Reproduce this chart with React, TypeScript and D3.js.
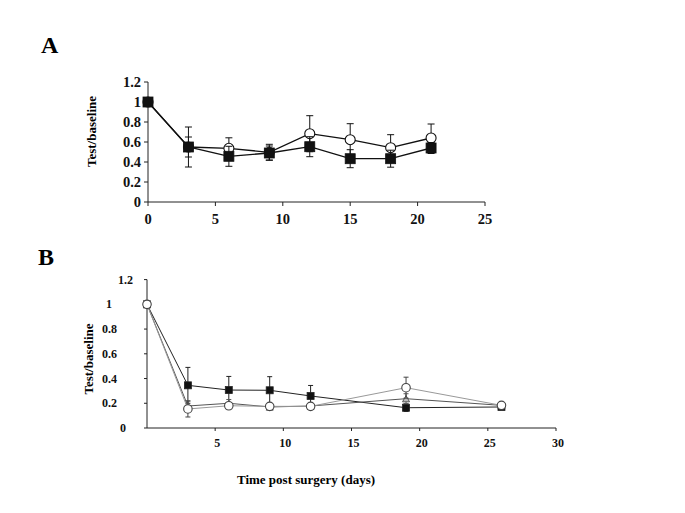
import React from "react";
import * as d3 from "d3";

// Panel A data
const daysA = [0, 3, 6, 9, 12, 15, 18, 21];
const aSquare = [1.0, 0.55, 0.457, 0.49, 0.553, 0.433, 0.433, 0.54];
const aSquareErr = [0, 0.2, 0.1, 0.07, 0.1, 0.09, 0.085, 0.055];
const aCircle = [1.0, 0.55, 0.537, 0.497, 0.683, 0.623, 0.543, 0.64];
const aCircleErr = [0, 0.1, 0.105, 0.08, 0.18, 0.16, 0.13, 0.14];
const aXTicks = [0, 5, 10, 15, 20, 25];
const aYTicks = [0, 0.2, 0.4, 0.6, 0.8, 1, 1.2];

// Panel B data
const daysB = [0, 3, 6, 9, 12, 19, 26];
const bSquare = [1.0, 0.345, 0.307, 0.305, 0.259, 0.164, 0.17];
const bSquareErr = [0, 0.145, 0.11, 0.11, 0.085, 0.03, 0.02];
const bTriangle = [1.0, 0.178, 0.2, 0.17, 0.178, 0.237, 0.183];
const bTriangleErr = [0, 0.04, 0.03, 0.02, 0.02, 0.04, 0.02];
const bCircle = [1.0, 0.154, 0.18, 0.175, 0.175, 0.326, 0.183];
const bCircleErr = [0, 0.065, 0.02, 0.02, 0.02, 0.085, 0.02];
const bXTicks = [5, 10, 15, 20, 25, 30];
const bYTicks = [0, 0.2, 0.4, 0.6, 0.8, 1, 1.2];

const FONT = "'Liberation Serif', 'Times New Roman', serif";

type Series = {
  x: number[];
  y: number[];
  err: number[];
  marker: "square" | "circle" | "triangle";
  size: number;
  line: string;
  lw: number;
  fill: string;
  stroke: string;
  cap: number;
};

function Marker({ kind, cx, cy, size, fill, stroke }: any) {
  if (kind === "square")
    return <rect x={cx - size / 2} y={cy - size / 2} width={size} height={size} fill={fill} stroke={stroke} strokeWidth={0.8} />;
  if (kind === "circle")
    return <circle cx={cx} cy={cy} r={size / 2} fill={fill} stroke={stroke} strokeWidth={1.1} />;
  const h = size * 0.9;
  return (
    <path
      d={`M${cx},${cy - h / 2} L${cx + size / 2},${cy + h / 2} L${cx - size / 2},${cy + h / 2} Z`}
      fill={fill}
      stroke={stroke}
      strokeWidth={1}
    />
  );
}

function Plot({ sx, sy, series }: { sx: d3.ScaleLinear<number, number>; sy: d3.ScaleLinear<number, number>; series: Series[] }) {
  return (
    <g>
      {series.map((s, si) => {
        const pts: [number, number][] = s.x.map((d, i) => [sx(d), sy(s.y[i])]);
        const line = d3.line()(pts) || "";
        return (
          <g key={si}>
            {s.x.map((d, i) =>
              s.err[i] > 0 ? (
                <g key={"e" + i} stroke={s.stroke} strokeWidth={1}>
                  <line x1={sx(d)} x2={sx(d)} y1={sy(s.y[i] - s.err[i])} y2={sy(s.y[i] + s.err[i])} />
                  <line x1={sx(d) - s.cap} x2={sx(d) + s.cap} y1={sy(s.y[i] + s.err[i])} y2={sy(s.y[i] + s.err[i])} />
                  <line x1={sx(d) - s.cap} x2={sx(d) + s.cap} y1={sy(s.y[i] - s.err[i])} y2={sy(s.y[i] - s.err[i])} />
                </g>
              ) : null
            )}
            <path d={line} fill="none" stroke={s.line} strokeWidth={s.lw} />
            {s.x.map((d, i) => (
              <Marker key={i} kind={s.marker} cx={sx(d)} cy={sy(s.y[i])} size={s.size} fill={s.fill} stroke={s.stroke} />
            ))}
          </g>
        );
      })}
    </g>
  );
}

export default function App() {
  // Panel A scales
  const axA = d3.scaleLinear().domain([0, 25]).range([148, 485]);
  const ayA = d3.scaleLinear().domain([0, 1.2]).range([202, 82]);
  // Panel B scales
  const bxB = d3.scaleLinear().domain([0, 30]).range([147, 556]);
  const byB = d3.scaleLinear().domain([0, 1.2]).range([428, 279.6]);

  const seriesA: Series[] = [
    { x: daysA, y: aCircle, err: aCircleErr, marker: "circle", size: 10, line: "#111", lw: 1.3, fill: "#fff", stroke: "#111", cap: 3.5 },
    { x: daysA, y: aSquare, err: aSquareErr, marker: "square", size: 10, line: "#111", lw: 1.3, fill: "#111", stroke: "#111", cap: 3.5 },
  ];
  const seriesB: Series[] = [
    { x: daysB, y: bSquare, err: bSquareErr, marker: "square", size: 7, line: "#222", lw: 1, fill: "#111", stroke: "#222", cap: 2.5 },
    { x: daysB, y: bTriangle, err: bTriangleErr, marker: "triangle", size: 7, line: "#555", lw: 1, fill: "#bbb", stroke: "#555", cap: 2.5 },
    { x: daysB, y: bCircle, err: bCircleErr, marker: "circle", size: 8.5, line: "#999", lw: 1, fill: "#fff", stroke: "#444", cap: 2.5 },
  ];

  // Odd label placement in panel B (scanned figure)
  const bYLabelRight = (v: number) => (v === 0 ? 126 : v === 1.2 ? 133 : v === 1 ? 112 : 117);

  return (
    <svg width={685} height={513} style={{ position: "absolute", left: 0, top: 0, background: "#fff" }} fontFamily={FONT}>
      <rect width={685} height={513} fill="#fff" />
      {/* Panel letters */}
      <text x={41} y={53} fontSize={24} fontWeight="bold">A</text>
      <text x={38} y={265} fontSize={24} fontWeight="bold">B</text>

      {/* Panel A axes */}
      <g stroke="#222" strokeWidth={1}>
        <line x1={axA(0)} x2={axA(25)} y1={ayA(0)} y2={ayA(0)} />
        <line x1={axA(0)} x2={axA(0)} y1={ayA(0)} y2={ayA(1.2)} />
        {aYTicks.map((t) => (
          <line key={t} x1={axA(0) - 4} x2={axA(0)} y1={ayA(t)} y2={ayA(t)} />
        ))}
        {aXTicks.map((t) => (
          <line key={t} x1={axA(t)} x2={axA(t)} y1={ayA(0)} y2={ayA(0) + 4} />
        ))}
      </g>
      <g fontSize={14.5} fontWeight="bold" fill="#111">
        {aYTicks.map((t) => (
          <text key={t} x={141} y={ayA(t) + 5} textAnchor="end">{d3.format("~g")(t)}</text>
        ))}
        {aXTicks.map((t) => (
          <text key={t} x={axA(t)} y={224} textAnchor="middle">{t}</text>
        ))}
      </g>
      <text transform={`translate(96,${131.5}) rotate(-90)`} fontSize={13} fontWeight="bold" textAnchor="middle">Test/baseline</text>
      <Plot sx={axA} sy={ayA} series={seriesA} />

      {/* Panel B axes */}
      <g stroke="#222" strokeWidth={1}>
        <line x1={bxB(0)} x2={bxB(30)} y1={byB(0)} y2={byB(0)} />
        <line x1={bxB(0)} x2={bxB(0)} y1={byB(0)} y2={byB(1.2)} />
        {bYTicks.map((t) => (
          <line key={t} x1={bxB(0) - 3} x2={bxB(0)} y1={byB(t)} y2={byB(t)} />
        ))}
        {bXTicks.map((t) => (
          <line key={t} x1={bxB(t)} x2={bxB(t)} y1={byB(0)} y2={byB(0) + 3} />
        ))}
      </g>
      <g fontSize={12} fontWeight="bold" fill="#111">
        {bYTicks.map((t) => (
          <text key={t} x={bYLabelRight(t)} y={byB(t) + 4} textAnchor="end">{d3.format("~g")(t)}</text>
        ))}
        {bXTicks.map((t) => (
          <text key={t} x={bxB(t) + 2} y={447} textAnchor="middle">{t}</text>
        ))}
      </g>
      <text transform={`translate(93,359) rotate(-90)`} fontSize={13} fontWeight="bold" textAnchor="middle">Test/baseline</text>
      <Plot sx={bxB} sy={byB} series={seriesB} />

      <text x={306} y={484} fontSize={13} fontWeight="bold" textAnchor="middle">Time post surgery (days)</text>
    </svg>
  );
}
